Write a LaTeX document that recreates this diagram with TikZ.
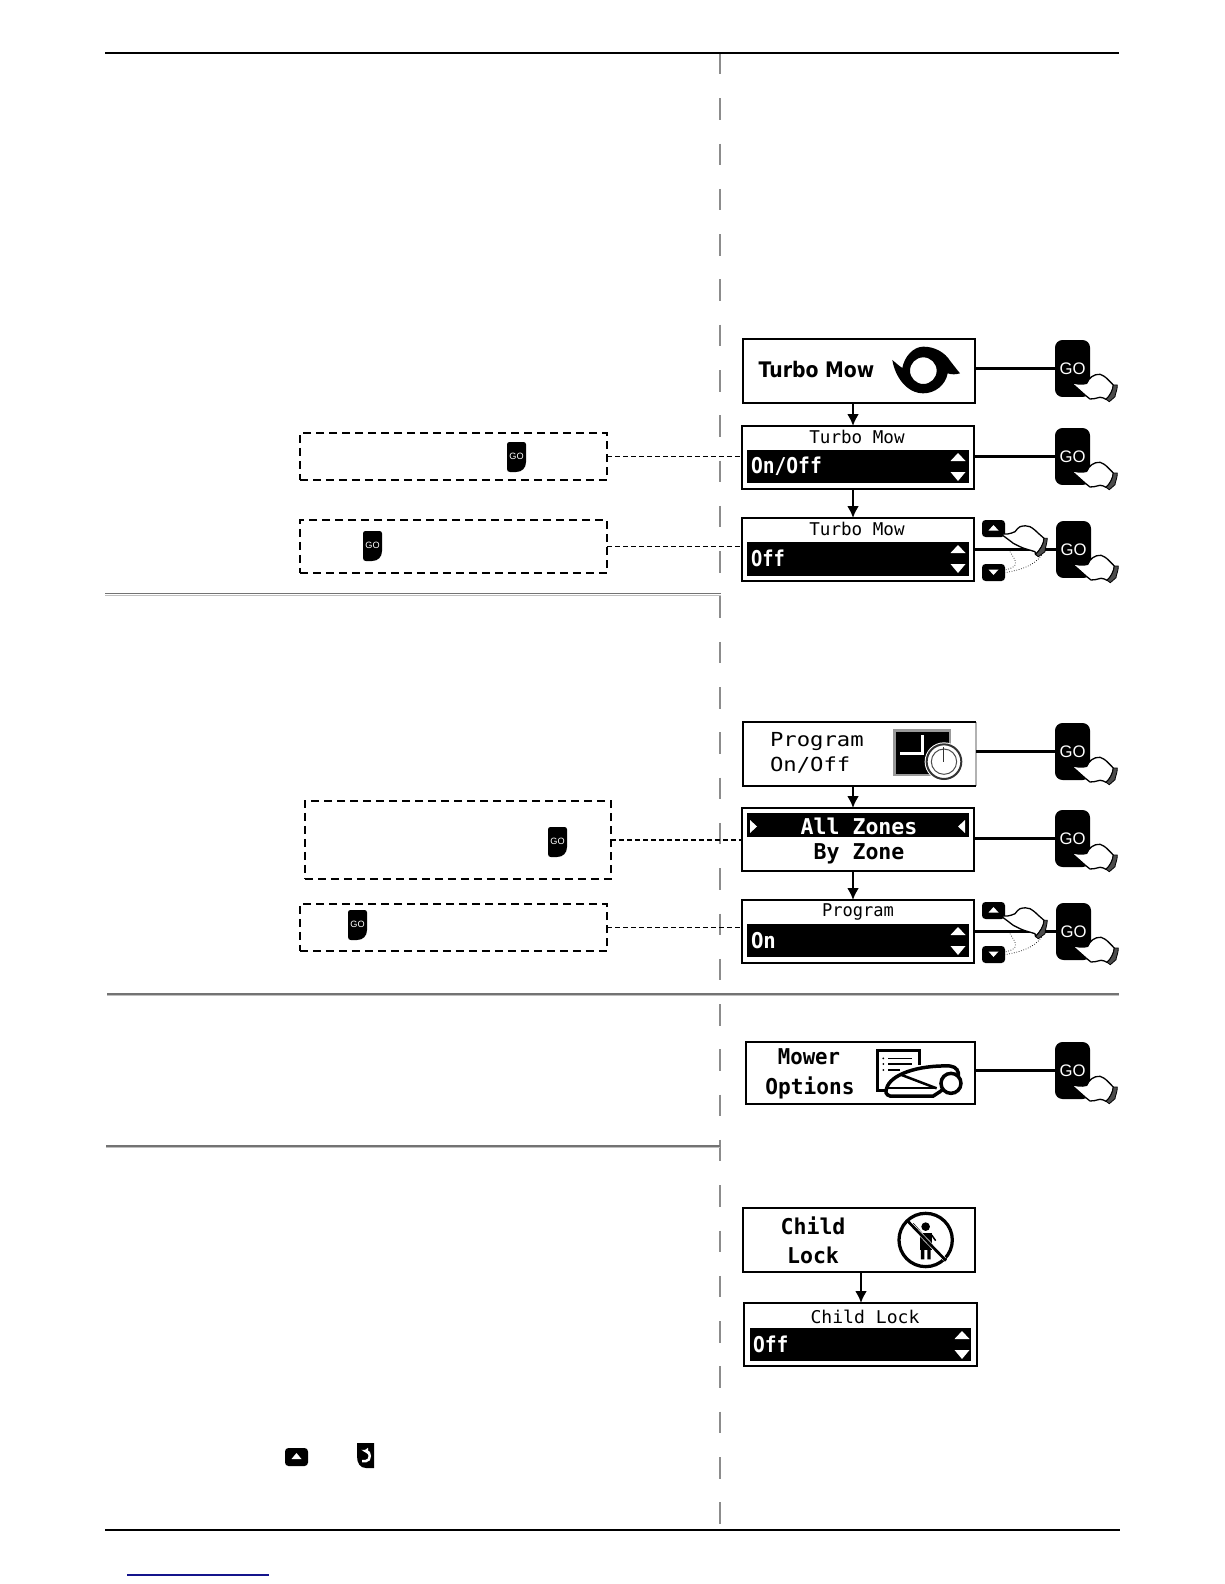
\documentclass[tikz,border=0pt]{standalone}
\usepackage{graphicx}
\usepackage{fontspec}
\usetikzlibrary{arrows.meta}
\setmainfont{Liberation Sans}
\newfontfamily\monoface{DejaVu Sans Mono}
\newfontfamily\sansface{DejaVu Sans}
\definecolor{linkblue}{RGB}{20,20,140}
\newcommand{\lcd}[3]{{\monoface\fontsize{#1}{#1}\selectfont\scalebox{#2}[1]{#3}}}
\newcommand{\lcdb}[3]{{\monoface\bfseries\fontsize{#1}{#1}\selectfont\scalebox{#2}[1]{#3}}}
\tikzset{
  base/.style={rectangle,inner sep=0pt,outer sep=0pt},
  screen/.style={base,draw=black,line width=0.04cm,fill=white},
  bar/.style={base,fill=black},
  plain/.style={base},
  note/.style={base,draw=black,line width=0.032cm,dash pattern=on 0.16cm off 0.1cm},
  goBtn/.style={base,fill=black,text=white,rounded corners=0.15cm,font=\fontsize{9.5}{9.5}\selectfont},
  rule/.style={draw=black,line width=0.036cm},
  link/.style={draw=black,line width=0.06cm},
  linkthin/.style={draw=black,line width=0.045cm},
  leader/.style={draw=black,line width=0.024cm,dash pattern=on 0.1cm off 0.06cm},
  flow/.style={draw=black,line width=0.045cm,-{Latex[length=0.24cm,width=0.24cm]}},
  vdash/.style={draw=black!45,line width=0.03cm,dash pattern=on 0.43cm off 0.476cm},
  txt/.style={inner sep=0pt,outer sep=0pt,text=black},
  wtxt/.style={inner sep=0pt,outer sep=0pt,text=white},
  hand/.style={draw=black,fill=white,line width=0.026cm,line join=round},
  cuff/.style={draw=black,fill=black!70,line width=0.016cm,line join=round},
  ghost/.style={draw=black,line width=0.014cm,densely dotted},
}
% style, name, x1, y1, x2, y2
\newcommand{\pxbox}[6]{%
  \pgfmathsetmacro{\bw}{(#5-#3)*0.02}\pgfmathsetmacro{\bh}{(#6-#4)*0.02}%
  \pgfmathsetmacro{\bx}{(#3+#5)/2}\pgfmathsetmacro{\by}{(#4+#6)/2}%
  \node[#1,minimum width=\bw cm,minimum height=\bh cm] (#2) at (\bx,\by) {};}
% white up and down triangles on a bar; x centre, bar top
\newcommand{\updown}[2]{%
  \begin{scope}[shift={(#1,#2)}]
    \fill[white] (0,3) -- (7.5,11) -- (-7.5,11) -- cycle;
    \fill[white] (-7.5,22) -- (7.5,22) -- (0,31) -- cycle;
  \end{scope}}
% GO button with hand: name, left, top
\newcommand{\gohand}[3]{%
  \pgfmathsetmacro{\gx}{#2+17.5}\pgfmathsetmacro{\gy}{#3+28.5}%
  \node[goBtn,minimum width=0.7cm,minimum height=1.14cm] (#1) at (\gx,\gy) {GO};
  \begin{scope}[shift={(#2,#3)}]
    \draw[hand] (15,41.7) .. controls (20,44) and (27,45) .. (31.7,43.3)
      .. controls (33,40) and (35,38) .. (36.7,36.7) .. controls (39,35) and (42,34) .. (45,34.3)
      .. controls (48,35) and (50,37) .. (51.7,38.3) -- (58.3,45)
      .. controls (58,50) and (55,56) .. (51,59.3) .. controls (49,58) and (47,57.5) .. (45,57.3)
      .. controls (41,58) and (38,59.5) .. (35,59) -- (30,55) -- cycle;
    \draw[cuff] (58.3,45) -- (62.3,45) .. controls (62.5,50) and (60,54) .. (60,56.7) -- (54.3,61.7) -- (51,59.3)
      .. controls (55,56) and (58,50) .. (58.3,45) -- cycle;
  \end{scope}}
% small up/down keys with a pressing hand: names, left, top of up key
\newcommand{\arrowkeys}[4]{%
  \pgfmathsetmacro{\ka}{#3+11.5}\pgfmathsetmacro{\kb}{#4+8.5}\pgfmathsetmacro{\kc}{#4+52.5}%
  \node[base,fill=black,rounded corners=0.07cm,minimum width=0.46cm,minimum height=0.34cm] (#1) at (\ka,\kb) {};
  \node[base,fill=black,rounded corners=0.07cm,minimum width=0.46cm,minimum height=0.34cm] (#2) at (\ka,\kc) {};
  \begin{scope}[shift={(#3,#4)}]
    \fill[white] (11.5,5) -- (16.5,10.5) -- (6.5,10.5) -- cycle;
    \fill[white] (6.5,49.5) -- (16.5,49.5) -- (11.5,55) -- cycle;
    \draw[ghost] (59.7,35) .. controls (52,46) and (38,50) .. (23,52.7);
    \draw[ghost] (28,31.7) .. controls (31,37) and (35,41) .. (33,45) .. controls (31,48) and (27,49) .. (23,50);
    \draw[hand] (18,13.3) .. controls (23,15) and (28,14) .. (33,11.7)
      .. controls (35,9) and (36,8) .. (38,6.7) .. controls (42,5.5) and (45,5.5) .. (48,6.7)
      .. controls (52,9) and (54,11) .. (56.3,13.3) -- (62,18.3)
      .. controls (62,24) and (58,30) .. (53.5,34.5) -- (53,31.7) .. controls (48,30) and (43,29) .. (38,26.7) -- (31.3,23.3) -- cycle;
    \draw[cuff] (62,18.3) -- (65.3,18.3) .. controls (65,24) and (63,28) .. (63,31.7) -- (56.3,36.7) -- (53.5,34.5)
      .. controls (58,30) and (62,24) .. (62,18.3) -- cycle;
  \end{scope}}
% mini GO icon: name, left, top
\newcommand{\minigo}[3]{%
  \pgfmathsetmacro{\mx}{#2+9.5}\pgfmathsetmacro{\my}{#3+14.5}%
  \begin{scope}[shift={(#2,#3)}]
    \fill[black] (2.5,0) -- (16.5,0) .. controls (18,0) and (19,1) .. (19,2.5) -- (19,20)
      .. controls (19,26) and (15,30) .. (9,30) -- (3,30) .. controls (1,30) and (0,29) .. (0,27)
      -- (0,2.5) .. controls (0,1) and (1,0) .. (2.5,0) -- cycle;
  \end{scope}
  \node[txt,text=white,font=\fontsize{5.2}{5.2}\selectfont] (#1) at (\mx,\my) {GO};}
\begin{document}
\begin{tikzpicture}[x=0.02cm,y=-0.02cm]
\useasboundingbox (0,0) rectangle (1224,1584);
\fill[white] (0,0) rectangle (1224,1584);

% page rules
\coordinate (ruleTL) at (105,53);
\coordinate (ruleTR) at (1119,53);
\coordinate (ruleBL) at (105,1530);
\coordinate (ruleBR) at (1120,1530);
\coordinate (vTop) at (720,53);
\coordinate (vBot) at (720,1530);
\draw[vdash] (vTop) -- (vBot);
\draw[rule] (ruleTL) -- (ruleTR);
\draw[rule] (ruleBL) -- (ruleBR);
\foreach \xa/\xb/\yy in {105/721/593.5,107/1119/994,106/720/1146}{
  \draw[black!55,line width=0.028cm] (\xa,\yy) -- (\xb,\yy);
  \draw[black!25,line width=0.02cm] (\xa,\yy+1.6) -- (\xb,\yy+1.6);
}
\coordinate (footA) at (127,1575);
\coordinate (footB) at (269,1575);
\draw[linkblue,line width=0.024cm] (footA) -- (footB);

% arrow columns
\coordinate (colA) at (853,0);
\coordinate (colB) at (861,0);

% Turbo Mow group
\pxbox{screen}{tm1}{743}{339}{975}{403}
\pxbox{screen}{tm2}{742}{426}{974}{489}
\pxbox{bar}{tm2bar}{747}{450}{969}{483}
\pxbox{screen}{tm3}{742}{518}{974}{581}
\pxbox{bar}{tm3bar}{747}{542}{969}{576}
\node[txt,anchor=west] (tm1t) at (758.5,369.5) {\sansface\bfseries\fontsize{12.2}{12.2}\selectfont\scalebox{0.88}[1]{Turbo Mow}};
\node[txt] (tm2t) at (857,437) {\lcd{10}{1}{Turbo Mow}};
\node[txt] (tm3t) at (857,529) {\lcd{10}{1}{Turbo Mow}};
\node[wtxt,anchor=west] (tm2v) at (751,466) {\lcdb{12.4}{0.9}{On/Off}};
\node[wtxt,anchor=west] (tm3v) at (751,558) {\lcdb{12.4}{0.86}{Off}};
\updown{958}{450}
\updown{958}{542}
\begin{scope}[shift={(885,340)},scale=0.3333]
  \fill[black,even odd rule] (22,60) .. controls (32,68) and (42,78) .. (52,84)
    .. controls (58,50) and (85,20) .. (115,20) .. controls (150,20) and (180,38) .. (195,62)
    .. controls (205,75) and (215,88) .. (225,100)
    .. controls (212,104) and (200,104) .. (188,100) .. controls (182,135) and (150,160) .. (115,160)
    .. controls (65,160) and (30,110) .. (22,60) -- cycle
    (115,92) circle (40);
\end{scope}
\gohand{go1}{1055}{340}
\gohand{go2}{1055}{428}
\gohand{go3}{1056}{521}
\draw[flow] (tm1.south -| colA) -- (tm2.north -| colA);
\draw[flow] (tm2.south -| colA) -- (tm3.north -| colA);
\draw[link] (go1.west -| tm1.east) -- (go1.west);
\draw[linkthin] (go2.west -| tm2.east) -- (go2.west);
\draw[link] (go3.west -| tm3.east) -- (go3.west);
\arrowkeys{up1}{dn1}{982}{520}
\pxbox{note}{n1}{300}{433}{607}{480}
\pxbox{note}{n2}{300}{520}{607}{573}
\minigo{m1}{507}{442}
\minigo{m2}{363}{531}
\draw[leader] (n1.east) -- (n1.east -| tm2.west);
\draw[leader,line width=0.016cm] (n2.east) -- (n2.east -| tm3.west);

% Program group
\pxbox{plain}{pg1}{743}{722}{976}{786}
\fill[white] (pg1.south west) rectangle (pg1.north east);
\draw[black!30,line width=0.03cm] (pg1.north east) -- (pg1.south east);
\draw[black,line width=0.04cm] (pg1.north east) -- (pg1.north west) -- (pg1.south west) -- (pg1.south east);
\pxbox{screen}{pg2}{742}{808}{974}{871}
\pxbox{bar}{pg2bar}{747}{813}{969}{837}
\pxbox{screen}{pg3}{742}{900}{974}{963}
\pxbox{bar}{pg3bar}{747}{924}{969}{957}
\node[txt,anchor=west] (pg1a) at (770,742) {\lcd{11}{1.15}{Program}};
\node[txt,anchor=west] (pg1b) at (770,765.5) {\lcd{11}{1.15}{On/Off}};
\node[wtxt] (pg2a) at (859,826) {\lcdb{12.4}{0.99}{All Zones}};
\node[txt] (pg2b) at (859,854) {\lcdb{12.4}{0.99}{By Zone}};
\node[txt] (pg3t) at (858,912) {\lcd{10}{0.97}{Program}};
\node[wtxt,anchor=west] (pg3v) at (751,941) {\lcdb{12.4}{0.95}{On}};
\fill[white] (750,820) -- (757,826.5) -- (750,833) -- cycle;
\fill[white] (965,820) -- (958,826.5) -- (965,833) -- cycle;
\updown{958}{924}
\begin{scope}[shift={(720,710)},scale=0.3333]
  \fill[black!40] (520,58) rectangle (692,198);
  \fill[black] (528,65) rectangle (688,192);
  \draw[white,line width=0.07cm] (608,75) -- (608,130) -- (540,130);
  \fill[white] (672,155) circle (58);
  \draw[black!80,line width=0.04cm] (672,155) circle (52);
  \draw[black!70,line width=0.02cm] (672,155) circle (38);
  \draw[black!80,line width=0.02cm] (672,112) -- (672,155);
\end{scope}
\gohand{go4}{1055}{723}
\gohand{go5}{1055}{810}
\gohand{go6}{1056}{903}
\draw[flow] (pg1.south -| colA) -- (pg2.north -| colA);
\draw[flow] (pg2.south -| colA) -- (pg3.north -| colA);
\draw[link] (go4.west -| pg1.east) -- (go4.west);
\draw[linkthin] (go5.west -| pg2.east) -- (go5.west);
\draw[linkthin] (go6.west -| pg3.east) -- (go6.west);
\arrowkeys{up2}{dn2}{982}{902}
\pxbox{note}{n3}{305}{801}{611}{879}
\pxbox{note}{n4}{300}{904}{607}{951}
\minigo{m3}{548}{827}
\minigo{m4}{348}{910}
\draw[leader] (n3.east) -- (n3.east -| pg2.west);
\draw[leader] (n4.east) -- (n4.east -| pg3.west);

% Mower Options
\pxbox{screen}{mo}{746}{1042}{975}{1104}
\node[txt] (moa) at (809,1057) {\lcdb{12.4}{0.95}{Mower}};
\node[txt] (mob) at (810,1088) {\lcdb{12.4}{0.97}{Options}};
\begin{scope}[shift={(720,1020)},scale=0.3333]
  \draw[black,line width=0.05cm] (598,135) -- (598,92) -- (473,92) -- (473,212) -- (500,212);
  \draw[black,line width=0.028cm] (505,115) -- (575,115) (505,132) -- (575,132) (505,150) -- (540,150);
  \fill[black] (490,115) circle (3) (490,132) circle (3) (490,150) circle (3);
  \draw[black,fill=white,line width=0.07cm] (500,205) .. controls (510,165) and (590,135) .. (690,138)
     .. controls (710,140) and (718,155) .. (715,170) -- (660,215) -- (640,228) -- (510,228) .. controls (498,225) and (495,215) .. (500,205) -- cycle;
  \draw[black,line width=0.05cm] (545,165) -- (650,205);
  \draw[black,line width=0.04cm] (505,205) -- (645,205);
  \draw[black,fill=white,line width=0.07cm] (693,190) circle (30);
\end{scope}
\gohand{go7}{1055}{1042}
\draw[linkthin] (go7.west -| mo.east) -- (go7.west);

% Child Lock
\pxbox{screen}{cl1}{743}{1208}{975}{1272}
\pxbox{screen}{cl2}{744}{1303}{977}{1366}
\pxbox{bar}{cl2bar}{750}{1328}{971}{1361}
\node[txt] (cl1a) at (813,1226) {\lcdb{12.4}{0.99}{Child}};
\node[txt] (cl1b) at (813,1255) {\lcdb{12.4}{0.99}{Lock}};
\node[txt] (cl2t) at (865,1317) {\lcd{10}{1.03}{Child Lock}};
\node[wtxt,anchor=west] (cl2v) at (753,1344) {\lcdb{12.4}{0.9}{Off}};
\updown{962}{1328}
\begin{scope}[shift={(720,1020)},scale=0.3333]
  \draw[black,line width=0.065cm] (617,660) circle (80);
  \fill[black] (617,620) circle (13);
  \fill[black] (600,638) rectangle (635,690);
  \fill[black] (603,690) rectangle (613,718) (622,690) rectangle (632,718);
  \draw[black,line width=0.05cm] (605,642) -- (578,612);
  \draw[black,line width=0.03cm] (635,645) -- (647,662);
  \draw[white,line width=0.08cm] (566,606) -- (674,718);
  \draw[black,line width=0.055cm] (560,600) -- (678,722);
\end{scope}
\draw[flow] (cl1.south -| colB) -- (cl2.north -| colB);

% inline key icons
\node[base,fill=black,rounded corners=0.07cm,minimum width=0.46cm,minimum height=0.36cm] (keyUp) at (296.5,1457) {};
\fill[white] (296.5,1453) -- (301.5,1459) -- (291.5,1459) -- cycle;
\fill[black] (357,1443) -- (374,1443) -- (374,1468) -- (366,1468) .. controls (360,1468) and (357,1463) .. (357,1456) -- cycle;
\coordinate (retA) at (363,1451);
\coordinate (retB) at (362,1461);
\draw[white,line width=0.05cm,-{Latex[length=0.1cm,width=0.14cm]}] (retB) -- (366,1461) .. controls (371,1461) and (371,1451) .. (366,1451) -- (retA);
\end{tikzpicture}
\end{document}
